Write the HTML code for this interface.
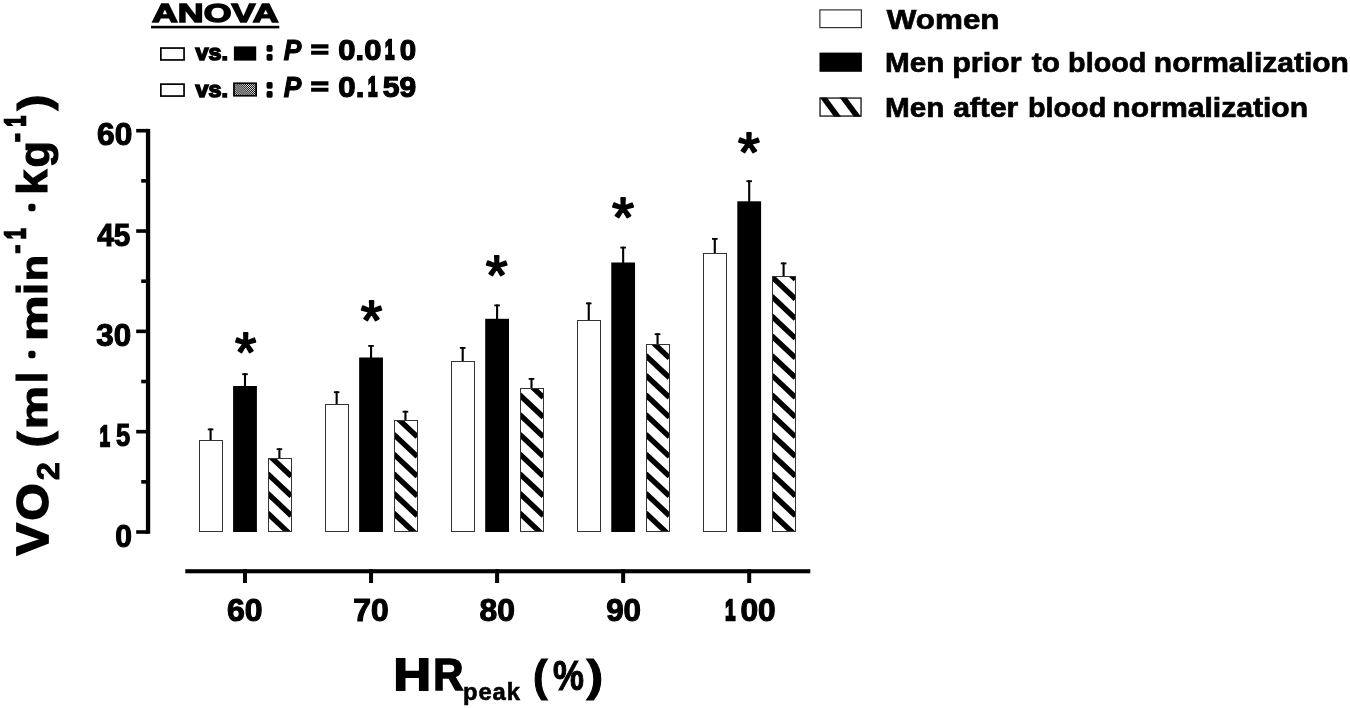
<!DOCTYPE html>
<html lang="en"><head><meta charset="utf-8"><title>Oxygen uptake by relative heart rate</title>
<style>
html,body{margin:0;padding:0;background:#fff;}
body{width:1350px;height:708px;overflow:hidden;}
svg{display:block;}
text{font-family:"Liberation Sans", "DejaVu Sans", sans-serif;font-weight:bold;fill:#000;stroke:#000;}
.it{font-style:italic;}
.rg{font-weight:normal;}
.rj{stroke-linejoin:round;}
</style></head><body>
<svg width="1350" height="708" viewBox="0 0 1350 708">
<rect x="0" y="0" width="1350" height="708" fill="#fff"/>
<g fill="#000">
<rect x="145.90" y="128.90" width="4.30" height="404.90"/>
<rect x="136.2" y="530.20" width="11.85" height="3.6"/>
<rect x="136.2" y="429.88" width="11.85" height="3.6"/>
<rect x="136.2" y="329.55" width="11.85" height="3.6"/>
<rect x="136.2" y="229.22" width="11.85" height="3.6"/>
<rect x="136.2" y="128.90" width="11.85" height="3.6"/>
<rect x="141.2" y="480.04" width="6.85" height="3.6"/>
<rect x="141.2" y="379.71" width="6.85" height="3.6"/>
<rect x="141.2" y="279.39" width="6.85" height="3.6"/>
<rect x="141.2" y="179.06" width="6.85" height="3.6"/>
<rect x="185.3" y="569.2" width="625" height="4.1"/>
<rect x="243.00" y="569.2" width="4" height="13.8"/>
<rect x="369.05" y="569.2" width="4" height="13.8"/>
<rect x="495.10" y="569.2" width="4" height="13.8"/>
<rect x="621.15" y="569.2" width="4" height="13.8"/>
<rect x="747.20" y="569.2" width="4" height="13.8"/>
</g>
<rect x="209.55" y="428.50" width="2.1" height="12.00" fill="#000"/>
<rect x="207.80" y="428.50" width="5.6" height="1.8" fill="#000"/>
<rect x="199.5" y="440.5" width="23" height="91.0" fill="#fff" stroke="#333" stroke-width="1"/>
<rect x="243.95" y="373.30" width="2.1" height="13.20" fill="#000"/>
<rect x="242.20" y="373.30" width="5.6" height="1.8" fill="#000"/>
<rect x="233.10" y="386.0" width="23.8" height="146.0" fill="#000"/>
<rect x="278.35" y="448.30" width="2.1" height="10.20" fill="#000"/>
<rect x="276.60" y="448.30" width="5.6" height="1.8" fill="#000"/>
<clipPath id="c0"><rect x="268.5" y="458.5" width="23" height="73.0"/></clipPath>
<rect x="268.5" y="458.5" width="23" height="73.0" fill="#fff"/>
<g clip-path="url(#c0)" stroke="#000" stroke-width="5.40" stroke-linecap="butt">
<line x1="267.50" y1="513.00" x2="291.30" y2="535.37"/>
<line x1="267.50" y1="493.30" x2="291.30" y2="515.67"/>
<line x1="267.50" y1="473.60" x2="291.30" y2="495.97"/>
<line x1="267.50" y1="453.90" x2="291.30" y2="476.27"/>
<line x1="267.50" y1="434.20" x2="291.30" y2="456.57"/>
</g>
<rect x="268.5" y="458.5" width="23" height="73.0" fill="none" stroke="#333" stroke-width="1"/>
<rect x="335.60" y="391.30" width="2.1" height="13.40" fill="#000"/>
<rect x="333.85" y="391.30" width="5.6" height="1.8" fill="#000"/>
<rect x="325.5" y="404.5" width="23" height="127.0" fill="#fff" stroke="#333" stroke-width="1"/>
<rect x="370.00" y="345.00" width="2.1" height="13.00" fill="#000"/>
<rect x="368.25" y="345.00" width="5.6" height="1.8" fill="#000"/>
<rect x="359.15" y="357.5" width="23.8" height="174.5" fill="#000"/>
<rect x="404.40" y="410.80" width="2.1" height="9.70" fill="#000"/>
<rect x="402.65" y="410.80" width="5.6" height="1.8" fill="#000"/>
<clipPath id="c1"><rect x="394.5" y="420.5" width="23" height="111.0"/></clipPath>
<rect x="394.5" y="420.5" width="23" height="111.0" fill="#fff"/>
<g clip-path="url(#c1)" stroke="#000" stroke-width="5.40" stroke-linecap="butt">
<line x1="393.55" y1="513.00" x2="417.35" y2="535.37"/>
<line x1="393.55" y1="493.30" x2="417.35" y2="515.67"/>
<line x1="393.55" y1="473.60" x2="417.35" y2="495.97"/>
<line x1="393.55" y1="453.90" x2="417.35" y2="476.27"/>
<line x1="393.55" y1="434.20" x2="417.35" y2="456.57"/>
<line x1="393.55" y1="414.50" x2="417.35" y2="436.87"/>
<line x1="393.55" y1="394.80" x2="417.35" y2="417.17"/>
</g>
<rect x="394.5" y="420.5" width="23" height="111.0" fill="none" stroke="#333" stroke-width="1"/>
<rect x="461.65" y="347.00" width="2.1" height="14.80" fill="#000"/>
<rect x="459.90" y="347.00" width="5.6" height="1.8" fill="#000"/>
<rect x="451.5" y="361.5" width="23" height="170.0" fill="#fff" stroke="#333" stroke-width="1"/>
<rect x="496.05" y="304.50" width="2.1" height="14.80" fill="#000"/>
<rect x="494.30" y="304.50" width="5.6" height="1.8" fill="#000"/>
<rect x="485.20" y="318.8" width="23.8" height="213.2" fill="#000"/>
<rect x="530.45" y="378.00" width="2.1" height="10.50" fill="#000"/>
<rect x="528.70" y="378.00" width="5.6" height="1.8" fill="#000"/>
<clipPath id="c2"><rect x="520.5" y="388.5" width="23" height="143.0"/></clipPath>
<rect x="520.5" y="388.5" width="23" height="143.0" fill="#fff"/>
<g clip-path="url(#c2)" stroke="#000" stroke-width="5.40" stroke-linecap="butt">
<line x1="519.60" y1="513.00" x2="543.40" y2="535.37"/>
<line x1="519.60" y1="493.30" x2="543.40" y2="515.67"/>
<line x1="519.60" y1="473.60" x2="543.40" y2="495.97"/>
<line x1="519.60" y1="453.90" x2="543.40" y2="476.27"/>
<line x1="519.60" y1="434.20" x2="543.40" y2="456.57"/>
<line x1="519.60" y1="414.50" x2="543.40" y2="436.87"/>
<line x1="519.60" y1="394.80" x2="543.40" y2="417.17"/>
<line x1="519.60" y1="375.10" x2="543.40" y2="397.47"/>
</g>
<rect x="520.5" y="388.5" width="23" height="143.0" fill="none" stroke="#333" stroke-width="1"/>
<rect x="587.70" y="302.50" width="2.1" height="18.00" fill="#000"/>
<rect x="585.95" y="302.50" width="5.6" height="1.8" fill="#000"/>
<rect x="577.5" y="320.5" width="23" height="211.0" fill="#fff" stroke="#333" stroke-width="1"/>
<rect x="622.10" y="246.70" width="2.1" height="16.30" fill="#000"/>
<rect x="620.35" y="246.70" width="5.6" height="1.8" fill="#000"/>
<rect x="611.25" y="262.5" width="23.8" height="269.5" fill="#000"/>
<rect x="656.50" y="333.30" width="2.1" height="11.40" fill="#000"/>
<rect x="654.75" y="333.30" width="5.6" height="1.8" fill="#000"/>
<clipPath id="c3"><rect x="646.5" y="344.5" width="23" height="187.0"/></clipPath>
<rect x="646.5" y="344.5" width="23" height="187.0" fill="#fff"/>
<g clip-path="url(#c3)" stroke="#000" stroke-width="5.40" stroke-linecap="butt">
<line x1="645.65" y1="513.00" x2="669.45" y2="535.37"/>
<line x1="645.65" y1="493.30" x2="669.45" y2="515.67"/>
<line x1="645.65" y1="473.60" x2="669.45" y2="495.97"/>
<line x1="645.65" y1="453.90" x2="669.45" y2="476.27"/>
<line x1="645.65" y1="434.20" x2="669.45" y2="456.57"/>
<line x1="645.65" y1="414.50" x2="669.45" y2="436.87"/>
<line x1="645.65" y1="394.80" x2="669.45" y2="417.17"/>
<line x1="645.65" y1="375.10" x2="669.45" y2="397.47"/>
<line x1="645.65" y1="355.40" x2="669.45" y2="377.77"/>
<line x1="645.65" y1="335.70" x2="669.45" y2="358.07"/>
<line x1="645.65" y1="316.00" x2="669.45" y2="338.37"/>
</g>
<rect x="646.5" y="344.5" width="23" height="187.0" fill="none" stroke="#333" stroke-width="1"/>
<rect x="713.75" y="238.00" width="2.1" height="15.80" fill="#000"/>
<rect x="712.00" y="238.00" width="5.6" height="1.8" fill="#000"/>
<rect x="703.5" y="253.5" width="23" height="278.0" fill="#fff" stroke="#333" stroke-width="1"/>
<rect x="748.15" y="180.30" width="2.1" height="21.50" fill="#000"/>
<rect x="746.40" y="180.30" width="5.6" height="1.8" fill="#000"/>
<rect x="737.30" y="201.3" width="23.8" height="330.7" fill="#000"/>
<rect x="782.55" y="262.50" width="2.1" height="14.20" fill="#000"/>
<rect x="780.80" y="262.50" width="5.6" height="1.8" fill="#000"/>
<clipPath id="c4"><rect x="772.5" y="276.5" width="23" height="255.0"/></clipPath>
<rect x="772.5" y="276.5" width="23" height="255.0" fill="#fff"/>
<g clip-path="url(#c4)" stroke="#000" stroke-width="5.40" stroke-linecap="butt">
<line x1="771.70" y1="513.00" x2="795.50" y2="535.37"/>
<line x1="771.70" y1="493.30" x2="795.50" y2="515.67"/>
<line x1="771.70" y1="473.60" x2="795.50" y2="495.97"/>
<line x1="771.70" y1="453.90" x2="795.50" y2="476.27"/>
<line x1="771.70" y1="434.20" x2="795.50" y2="456.57"/>
<line x1="771.70" y1="414.50" x2="795.50" y2="436.87"/>
<line x1="771.70" y1="394.80" x2="795.50" y2="417.17"/>
<line x1="771.70" y1="375.10" x2="795.50" y2="397.47"/>
<line x1="771.70" y1="355.40" x2="795.50" y2="377.77"/>
<line x1="771.70" y1="335.70" x2="795.50" y2="358.07"/>
<line x1="771.70" y1="316.00" x2="795.50" y2="338.37"/>
<line x1="771.70" y1="296.30" x2="795.50" y2="318.67"/>
<line x1="771.70" y1="276.60" x2="795.50" y2="298.97"/>
<line x1="771.70" y1="256.90" x2="795.50" y2="279.27"/>
</g>
<rect x="772.5" y="276.5" width="23" height="255.0" fill="none" stroke="#333" stroke-width="1"/>
<text><tspan x="234.98" y="371.32" font-size="55.36" stroke-width="1.8" textLength="21.30" lengthAdjust="spacingAndGlyphs" class="rg rj">*</tspan></text>
<text><tspan x="360.87" y="338.52" font-size="55.36" stroke-width="1.8" textLength="21.52" lengthAdjust="spacingAndGlyphs" class="rg rj">*</tspan></text>
<text><tspan x="485.86" y="293.92" font-size="55.94" stroke-width="1.8" textLength="21.84" lengthAdjust="spacingAndGlyphs" class="rg rj">*</tspan></text>
<text><tspan x="612.05" y="236.02" font-size="55.65" stroke-width="1.8" textLength="22.06" lengthAdjust="spacingAndGlyphs" class="rg rj">*</tspan></text>
<text><tspan x="738.06" y="170.92" font-size="55.94" stroke-width="1.8" textLength="21.84" lengthAdjust="spacingAndGlyphs" class="rg rj">*</tspan></text>
<text><tspan x="97.04" y="145.34" font-size="31.13" stroke-width="1.1" textLength="35.25" lengthAdjust="spacingAndGlyphs">60</tspan></text>
<text><tspan x="97.20" y="245.93" font-size="31.51" stroke-width="1.1" textLength="33.16" lengthAdjust="spacingAndGlyphs">45</tspan></text>
<text><tspan x="96.37" y="346.14" font-size="30.85" stroke-width="1.1" textLength="34.81" lengthAdjust="spacingAndGlyphs">30</tspan></text>
<text><tspan x="99.73" y="445.60" font-size="29.64" stroke-width="2.6" textLength="10.05" lengthAdjust="spacingAndGlyphs">1</tspan><tspan x="116.08" y="446.33" font-size="31.80" stroke-width="1.1" textLength="14.24" lengthAdjust="spacingAndGlyphs">5</tspan></text>
<text><tspan x="115.15" y="546.54" font-size="30.56" stroke-width="1.1" textLength="16.75" lengthAdjust="spacingAndGlyphs">0</tspan></text>
<text><tspan x="226.93" y="620.84" font-size="31.41" stroke-width="1.1" textLength="35.57" lengthAdjust="spacingAndGlyphs">60</tspan></text>
<text><tspan x="353.31" y="620.84" font-size="30.70" stroke-width="1.1" textLength="35.49" lengthAdjust="spacingAndGlyphs">70</tspan></text>
<text><tspan x="479.60" y="620.84" font-size="31.41" stroke-width="1.1" textLength="35.40" lengthAdjust="spacingAndGlyphs">80</tspan></text>
<text><tspan x="606.15" y="620.84" font-size="31.41" stroke-width="1.1" textLength="34.93" lengthAdjust="spacingAndGlyphs">90</tspan></text>
<text><tspan x="725.23" y="619.70" font-size="29.05" stroke-width="2.6" textLength="10.05" lengthAdjust="spacingAndGlyphs">1</tspan><tspan x="740.38" y="620.63" font-size="31.55" stroke-width="1.1" textLength="35.31" lengthAdjust="spacingAndGlyphs">00</tspan></text>
<text><tspan x="393.53" y="689.80" font-size="44.09" stroke-width="1.8" textLength="37.46" lengthAdjust="spacingAndGlyphs">H</tspan><tspan x="433.19" y="689.90" font-size="44.38" stroke-width="1.6" textLength="30.14" lengthAdjust="spacingAndGlyphs">R</tspan><tspan x="463.06" y="699.83" font-size="23.76" stroke-width="0.6" letter-spacing="0.921">peak</tspan> <tspan x="533.07" y="690.70" font-size="44.62" stroke-width="1.1" textLength="14.51" lengthAdjust="spacingAndGlyphs">(</tspan><tspan x="552.98" y="689.94" font-size="42.86" stroke-width="1.1" textLength="30.91" lengthAdjust="spacingAndGlyphs">%</tspan><tspan x="586.50" y="690.70" font-size="44.62" stroke-width="1.1" textLength="16.66" lengthAdjust="spacingAndGlyphs">)</tspan></text>
<g transform="translate(48,556) rotate(-90)">
<text><tspan x="0.72" y="-0.30" font-size="44.82" stroke-width="1.8" textLength="32.02" lengthAdjust="spacingAndGlyphs">V</tspan><tspan x="35.50" y="-0.15" font-size="44.79" stroke-width="1.8" textLength="36.94" lengthAdjust="spacingAndGlyphs">O</tspan><tspan x="75.81" y="10.55" font-size="30.57" stroke-width="0.9" textLength="18.08" lengthAdjust="spacingAndGlyphs">2</tspan> <tspan x="108.54" y="0.89" font-size="45.16" stroke-width="1.1" textLength="16.06" lengthAdjust="spacingAndGlyphs">(</tspan><tspan x="126.78" y="-0.55" font-size="37.59" stroke-width="1.1" textLength="43.41" lengthAdjust="spacingAndGlyphs">m</tspan><tspan x="173.10" y="-0.55" font-size="42.48" stroke-width="1.1" textLength="10.91" lengthAdjust="spacingAndGlyphs">l</tspan> <tspan x="199.15" y="-10.81" font-size="15.33" stroke-width="5.0" textLength="5.47" lengthAdjust="spacingAndGlyphs" class="rj">·</tspan> <tspan x="215.01" y="-0.55" font-size="37.59" stroke-width="1.1" textLength="45.75" lengthAdjust="spacingAndGlyphs">m</tspan><tspan x="261.09" y="-0.55" font-size="42.48" stroke-width="1.1" textLength="12.15" lengthAdjust="spacingAndGlyphs">i</tspan><tspan x="274.75" y="-0.55" font-size="37.59" stroke-width="1.1" textLength="26.33" lengthAdjust="spacingAndGlyphs">n</tspan><tspan x="301.92" y="-21.07" font-size="34.17" stroke-width="0.8" textLength="9.80" lengthAdjust="spacingAndGlyphs">-</tspan><tspan x="317.07" y="-23.30" font-size="30.07" stroke-width="2.6" textLength="10.53" lengthAdjust="spacingAndGlyphs">1</tspan> <tspan x="346.25" y="-10.81" font-size="15.33" stroke-width="5.0" textLength="5.47" lengthAdjust="spacingAndGlyphs" class="rj">·</tspan> <tspan x="361.39" y="-0.55" font-size="42.48" stroke-width="1.1" textLength="25.12" lengthAdjust="spacingAndGlyphs">k</tspan><tspan x="388.52" y="1.22" font-size="42.53" stroke-width="1.1" textLength="26.37" lengthAdjust="spacingAndGlyphs">g</tspan><tspan x="413.62" y="-20.07" font-size="39.17" stroke-width="0.8" textLength="9.80" lengthAdjust="spacingAndGlyphs">-</tspan><tspan x="429.57" y="-23.30" font-size="30.36" stroke-width="2.6" textLength="10.53" lengthAdjust="spacingAndGlyphs">1</tspan><tspan x="445.61" y="0.90" font-size="43.66" stroke-width="1.1" textLength="15.94" lengthAdjust="spacingAndGlyphs">)</tspan></text>
</g>
<text><tspan x="152.01" y="22.34" font-size="25.77" stroke-width="1.4" textLength="126.57" lengthAdjust="spacingAndGlyphs">ANOVA</tspan></text>
<rect x="151" y="25.8" width="128.3" height="2.6" fill="#000"/>
<pattern id="fh" width="4" height="1.36" patternUnits="userSpaceOnUse" patternTransform="rotate(45)"><rect width="4" height="0.72" fill="#000"/></pattern>
<rect x="160.85" y="48.05" width="23.2" height="11.9" fill="#fff" stroke="#000" stroke-width="1.7"/>
<rect x="233.9" y="46.4" width="22.3" height="14.2" fill="#000"/>
<text><tspan x="195.53" y="59.84" font-size="21.27" stroke-width="1.5" textLength="32.45" lengthAdjust="spacingAndGlyphs">vs.</tspan></text>
<text><tspan x="265.91" y="59.05" font-size="24.16" stroke-width="3.5" textLength="7.14" lengthAdjust="spacingAndGlyphs" class="rj">:</tspan> <tspan x="283.77" y="59.90" font-size="29.78" stroke-width="1.2" textLength="17.65" lengthAdjust="spacingAndGlyphs" class="it">P</tspan> <tspan x="310.81" y="58.01" font-size="24.53" stroke-width="1.5" textLength="18.04" lengthAdjust="spacingAndGlyphs">=</tspan> <tspan x="338.36" y="59.81" font-size="29.30" stroke-width="1.2" textLength="43.08" lengthAdjust="spacingAndGlyphs">0.0</tspan><tspan x="385.11" y="59.10" font-size="27.01" stroke-width="2.6" textLength="9.33" lengthAdjust="spacingAndGlyphs">1</tspan><tspan x="399.82" y="59.81" font-size="29.30" stroke-width="1.2" textLength="16.39" lengthAdjust="spacingAndGlyphs">0</tspan></text>
<rect x="160.85" y="84.15" width="23.2" height="11.9" fill="#fff" stroke="#000" stroke-width="1.7"/>
<rect x="233.95" y="83.25" width="22.2" height="12.5" fill="#fff"/>
<rect x="233.95" y="83.25" width="22.2" height="12.5" fill="url(#fh)" stroke="#000" stroke-width="1.7"/>
<text><tspan x="195.53" y="96.64" font-size="21.27" stroke-width="1.5" textLength="32.45" lengthAdjust="spacingAndGlyphs">vs.</tspan></text>
<text><tspan x="265.91" y="95.85" font-size="24.16" stroke-width="3.5" textLength="7.14" lengthAdjust="spacingAndGlyphs" class="rj">:</tspan> <tspan x="283.77" y="96.70" font-size="29.78" stroke-width="1.2" textLength="17.65" lengthAdjust="spacingAndGlyphs" class="it">P</tspan> <tspan x="310.81" y="94.81" font-size="24.53" stroke-width="1.5" textLength="18.04" lengthAdjust="spacingAndGlyphs">=</tspan> <tspan x="338.35" y="96.61" font-size="29.30" stroke-width="1.2" textLength="26.00" lengthAdjust="spacingAndGlyphs">0.</tspan><tspan x="367.91" y="95.90" font-size="27.01" stroke-width="2.6" textLength="9.33" lengthAdjust="spacingAndGlyphs">1</tspan><tspan x="382.70" y="96.61" font-size="29.30" stroke-width="1.2" textLength="33.42" lengthAdjust="spacingAndGlyphs">59</tspan></text>
<rect x="819.9" y="9.9" width="41.5" height="17.7" fill="#fff" stroke="#333" stroke-width="1.2"/>
<rect x="819.5" y="52.6" width="42.4" height="19.2" fill="#000"/>
<clipPath id="lc"><rect x="819.4" y="97.4" width="42.3" height="19.3"/></clipPath>
<rect x="819.4" y="97.4" width="42.3" height="19.3" fill="#fff"/>
<g clip-path="url(#lc)" stroke="#000" stroke-width="5.67">
<line x1="819.08" y1="91.61" x2="841.88" y2="122.49"/>
<line x1="838.88" y1="91.61" x2="861.67" y2="122.49"/>
</g>
<rect x="820.05" y="98.05" width="41" height="18" fill="none" stroke="#111" stroke-width="1.3"/>
<text><tspan x="886.75" y="29.25" font-size="28.03" stroke-width="0.7" textLength="112.77" lengthAdjust="spacingAndGlyphs">Women</tspan></text>
<text><tspan x="885.02" y="72.45" font-size="28.03" stroke-width="0.7" textLength="59.41" lengthAdjust="spacingAndGlyphs">Men</tspan> <tspan x="952.17" y="72.45" font-size="28.03" stroke-width="0.7" textLength="69.48" lengthAdjust="spacingAndGlyphs">prior</tspan> <tspan x="1031.75" y="72.45" font-size="28.03" stroke-width="0.7" textLength="28.16" lengthAdjust="spacingAndGlyphs">to</tspan> <tspan x="1068.08" y="72.45" font-size="28.03" stroke-width="0.7" textLength="78.28" lengthAdjust="spacingAndGlyphs">blood</tspan> <tspan x="1153.80" y="72.45" font-size="28.03" stroke-width="0.7" textLength="195.17" lengthAdjust="spacingAndGlyphs">normalization</tspan></text>
<text><tspan x="885.02" y="117.25" font-size="28.03" stroke-width="0.7" textLength="59.41" lengthAdjust="spacingAndGlyphs">Men</tspan> <tspan x="953.15" y="117.25" font-size="28.03" stroke-width="0.7" textLength="65.18" lengthAdjust="spacingAndGlyphs">after</tspan> <tspan x="1027.98" y="117.25" font-size="28.03" stroke-width="0.7" textLength="78.28" lengthAdjust="spacingAndGlyphs">blood</tspan> <tspan x="1112.39" y="117.25" font-size="28.03" stroke-width="0.7" textLength="195.78" lengthAdjust="spacingAndGlyphs">normalization</tspan></text>
</svg></body></html>
